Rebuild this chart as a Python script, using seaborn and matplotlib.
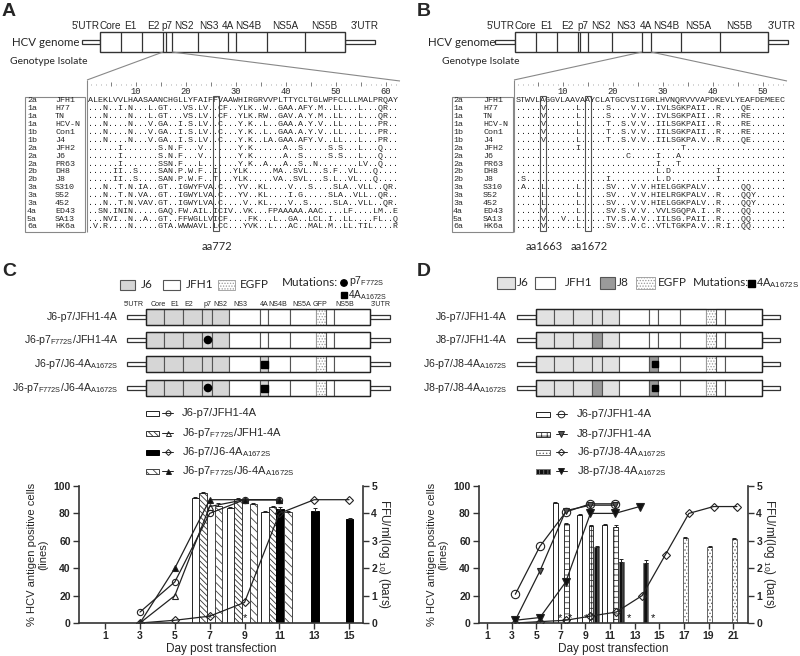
import numpy as np
import pandas as pd
import seaborn as sns
import matplotlib
matplotlib.use("Agg")
import matplotlib.pyplot as plt
from matplotlib.patches import Rectangle, Circle

# ------------------------------------------------------------------ data
genome_parts = ["5'UTR", "Core", "E1", "E2", "p7", "NS2", "NS3", "4A", "NS4B", "NS5A", "NS5B", "3'UTR"]
construct_parts = ["5'UTR", "Core", "E1", "E2", "p7", "NS2", "NS3", "4A", "NS4B", "NS5A", "GFP", "NS5B", "3'UTR"]

genotypes = ["2a", "1a", "1a", "1a", "1b", "1b", "2a", "2a", "2a", "2b", "2b", "3a", "3a", "3a", "4a", "5a", "6a"]
isolates = ["JFH1", "H77", "TN", "HCV-N", "Con1", "J4", "JFH2", "J6", "PR63", "DH8", "J8",
            "S310", "S52", "452", "ED43", "SA13", "HK6a"]

p7_alignment = [
    "ALEKLVVLHAASAANCHGLLYFAIF" + "F" + "VAAWHIRGRVVPLTTYCLTGLWPFCLLLMALPRQAYA",
    "...N..I.N...L.GT...VS.LV." + "." + "CF..YLK..W..GAA.AFY.M..LL...L...QR...",
    "...N....N...L.GT...VS.LV." + "." + "CF..YLK.RW..GAV.A.Y.M..LL...L...QR...",
    "...N....N...V.GA..I.S.LV." + "." + "C...Y.K..L..GAA.A.Y.V..LL...L...PR...",
    "...N....N...V.GA..I.S.LV." + "." + "C...Y.K..L..GAA.A.Y.V..LL...L...PR...",
    "...N....N...V.GA..I.S.LV." + "." + "C...Y.K..LA.GAA.AFY.V..LL...L...PR...",
    "......I.......S.N.F...V.." + "." + "....Y.K......A..S.....S.S...L...Q....",
    "......I.......S.N.F...V.." + "." + "....Y.K......A..S.....S.S...L...Q....",
    "......I.......SSN.F...L.." + "." + "....Y.K..A...A..S..N........LV..Q....",
    ".....II..S....SAN.P.W.F.." + "I" + "...YLK.....MA..SVL...S.F..VL...Q.....",
    ".....II..S....SAN.P.W.F.." + "T" + "...YLK.....VA..SVL...S.L..VL...Q.....",
    "...N..T.N.IA..GT..IGWYFVA" + "." + "C...YV..KL....V...S....SLA..VLL..QR..",
    "...N..T.N.VA..GT..IGWYLVA" + "." + "C...YV..KL....I.G.....SLA..VLL..QR...",
    "...N..T.N.VAV.GT..IGWYLVA" + "." + "C....V..KL....V..S.....SLA..VLL..QR..",
    "..SN.ININ.....GAQ.FW.AIL." + "I" + "CIV..VK...FPAAAAA.AAC....LF....LM..ER",
    "...NVI..N..A..GT..FFWGLLV" + "I" + "CF....FK...L..GA..LCL.I..LL....FL..QR",
    ".V.R....N.....GTA.WWWAVL." + "L" + "CC...YVK..L...AC..MAL.M..LL.TIL....R.",
]
ns4a_alignment = [
    "STWVLAGGVLAAVAAYCLATGCVSIIGRLHVNQRVVVAPDKEVLYEAFDEMEEC",
    ".....V......L.....S....V.V..IVLSGKPAII..R....QE.......",
    ".....V......L.....S....V.V..IVLSGKPAII..R....RE.......",
    ".....V......L.....T..S.V.V..IILSGKPAII..R....RE.......",
    ".....V......L.....T..S.V.V..IILSGKPAII..R....RE.......",
    ".....V......L.....T..S.V.V..IILSGKPA.V..R....QE.......",
    "............I....................T....................",
    "......................C.....I...A.....................",
    "............................I...T.....................",
    "............................L.D.........I.............",
    ".S................I.........L.D.........I.............",
    ".A...L......L.....SV...V.V.HIELGGKPALV.......QQ.......",
    ".....L......L.....SV...V.V.HIELRGKPALV..R....QQY......",
    ".....L......L.....SV...V.V.HIELGGKPALV..R....QQY......",
    ".....V......L.....SV.S.V.V..VVLSGQPA.I..R....QQ.......",
    ".....V...V..L.....TV.S.A.V..IILSG.PAII..R....QQ.......",
    ".....V......L.....SV...V.C..VTLTGKPA.V..R.I..QQ.......",
]
p7_sites = [26]
p7_site_labels = ["aa772"]
ns4a_sites = [6, 15]
ns4a_site_labels = ["aa1663", "aa1672"]

# constructs (panel C / D)
c_names = ["J6-p7/JFH1-4A", r"J6-p7$_{\mathrm{F772S}}$/JFH1-4A",
           r"J6-p7/J6-4A$_{\mathrm{A1672S}}$", r"J6-p7$_{\mathrm{F772S}}$/J6-4A$_{\mathrm{A1672S}}$"]
c_p7_mut = [0, 1, 0, 1]
c_4a_j6 = [0, 0, 1, 1]
c_4a_mut = [0, 0, 1, 1]
d_names = ["J6-p7/JFH1-4A", "J8-p7/JFH1-4A",
           r"J6-p7/J8-4A$_{\mathrm{A1672S}}$", r"J8-p7/J8-4A$_{\mathrm{A1672S}}$"]
d_p7_j8 = [0, 1, 0, 1]
d_4a_j8 = [0, 0, 1, 1]
d_4a_mut = [0, 0, 1, 1]

# panel C kinetics
c_ticks = [1, 3, 5, 7, 9, 11, 13, 15]
c_wt_bar_days = [7, 9, 11]
c_wt_ffu = [4.56, 4.20, 4.05]
c_wt_sd = [0.05, 0.03, 0.04]
c_f772s_bar_days = [7, 9, 11]
c_f772s_ffu = [4.74, 4.53, 4.23]
c_f772s_sd = [0.04, 0.03, 0.03]
c_a1672s_bar_days = [11, 13, 15]
c_a1672s_ffu = [4.16, 4.09, 3.80]
c_a1672s_sd = [0.08, 0.10, 0.04]
c_double_bar_days = [7, 9, 11]
c_double_ffu = [4.27, 4.34, 4.05]
c_double_sd = [0.12, 0.04, 0.03]
c_star_days = [7, 9]

c_line_days = [3, 5, 7, 9, 11]
c_wt_pct = [8, 30, 80, 90, 90]
c_f772s_pct = [0, 20, 85, 90, 90]
c_a1672s_line_days = [3, 5, 7, 9, 11, 13, 15]
c_a1672s_pct = [0, 2, 5, 15, 80, 90, 90]
c_double_pct = [0, 40, 90, 90, 90]

# panel D kinetics
d_ticks = [1, 3, 5, 7, 9, 11, 13, 15, 17, 19, 21]
d_wt_bar_days = [7, 9, 11]
d_wt_ffu = [4.38, 3.94, 3.58]
d_wt_sd = [0.05, 0.05, 0.02]
d_j8p7_bar_days = [7, 9, 11]
d_j8p7_ffu = [3.60, 3.54, 3.50]
d_j8p7_sd = [0.04, 0.05, 0.08]
d_j6j8_bar_days = [17, 19, 21]
d_j6j8_ffu = [3.10, 2.77, 3.07]
d_j6j8_sd = [0.05, 0.04, 0.05]
d_j8j8_bar_days = [9, 11, 13]
d_j8j8_ffu = [2.77, 2.22, 2.19]
d_j8j8_sd = [0.03, 0.10, 0.10]
d_star_days = [6.9, 7.75, 9.0, 12.5, 14.5]

d_line_days = [3.3, 5.3, 7.4, 9.4, 11.4]
d_wt_pct = [21, 56, 81, 87, 87]
d_j8p7_pct = [2, 38, 82, 86, 86]
d_j6j8_line_days = [3.3, 5.3, 7.4, 9.4, 11.5, 13.6, 15.5, 17.4, 19.4, 21.3]
d_j6j8_pct = [0, 1, 2, 5, 8, 20, 50, 80, 85, 85]
d_j8j8_line_days = [3.3, 5.3, 7.4, 9.4, 11.4, 13.4]
d_j8j8_pct = [2, 4, 30, 80, 80, 85]

# ------------------------------------------------------------------ style
sns.set_theme(style="ticks")
SANS = ['Liberation Sans', 'DejaVu Sans']
CAL = ['Lato', 'DejaVu Sans']
MONO = ['Liberation Mono', 'DejaVu Sans Mono']
plt.rcParams['font.family'] = SANS
plt.rcParams['mathtext.fontset'] = 'custom'
plt.rcParams['mathtext.rm'] = 'Liberation Sans'
plt.rcParams['mathtext.it'] = 'Liberation Sans:italic'
plt.rcParams['mathtext.bf'] = 'Liberation Sans:bold'
plt.rcParams['hatch.linewidth'] = 0.6

W, H = 800, 656
fig = plt.figure(figsize=(8, 6.56), dpi=100)
cv = fig.add_axes([0, 0, 1, 1])
cv.set_xlim(0, W)
cv.set_ylim(H, 0)
cv.axis('off')

J6C = '#d6d6d6'
J6D = '#e2e2e2'
J8 = '#9a9a9a'
EDGE = '#333333'


def T(x, y, s, size=7.5, ha='left', va='center', family=None, weight='normal', **kw):
    cv.text(x, y, s, fontsize=size, ha=ha, va=va, family=family or SANS,
            fontweight=weight, **kw)


def line(xs, ys, color='#333', lw=0.8, **kw):
    cv.plot(xs, ys, color=color, lw=lw, solid_capstyle='butt', **kw)


# ------------------------------------------------------------------ panel letters
for lab, x, y in [("A", 2, 11), ("B", 417, 12), ("C", 2, 272), ("D", 417, 272)]:
    T(x, y, lab, 14, weight='bold')


# ------------------------------------------------------------------ genome A/B
def draw_genome(divs, utr_l, utr_r, label_x, hcv_x, y0=32, y1=52):
    yc = (y0 + y1) / 2
    cv.add_patch(Rectangle((utr_l, yc - 2), divs[0] - utr_l, 4, fc='white', ec=EDGE, lw=0.9))
    cv.add_patch(Rectangle((divs[-1], yc - 2), utr_r - divs[-1], 4, fc='white', ec=EDGE, lw=0.9))
    cv.add_patch(Rectangle((divs[0], y0), divs[-1] - divs[0], y1 - y0, fc='white', ec=EDGE, lw=1.0))
    for d in divs[1:-1]:
        line([d, d], [y0, y1], lw=0.9)
    for name, x in zip(genome_parts, label_x):
        T(x, 26, name, 7.2, ha='center')
    T(hcv_x, 43, "HCV genome", 8.3, family=CAL)


draw_genome([100, 121, 142, 163, 166, 172, 198, 228, 236, 267, 305, 345], 82, 375,
            [86, 110, 130, 153, 167, 184, 209, 228, 248, 285, 324, 365], 12)
draw_genome([515, 536, 557, 578, 580, 588, 612, 642, 651, 681, 720, 768], 495, 788,
            [501, 525, 546, 567, 583, 601, 626, 646, 666, 698, 739, 782], 428)


# ------------------------------------------------------------------ alignments
def draw_alignment(seqs, nchar, c1, left_line, box_l, box_r, geno_x, iso_x, zoom_from, zoom_right,
                   sites, site_labels, gt_x):
    ys = [101 + 7.875 * i for i in range(len(seqs))]
    T(gt_x, 62, "Genotype Isolate", 7.5, family=CAL)
    line([zoom_from[0], left_line], [52, 80], color='#888', lw=0.8)
    line([zoom_from[1], zoom_right], [52, 81], color='#888', lw=0.8)
    for k in range(1, nchar + 1):
        x = c1 + (k - 1) * 5
        if k % 5 == 0:
            line([x, x], [81.5, 86], color='#666', lw=0.6)
        else:
            line([x, x], [83.5, 85], color='#888', lw=0.5)
        if k % 10 == 0:
            T(x, 91, str(k), 6.3, ha='center', family=MONO)
    line([left_line, left_line], [80, 232], color='#888', lw=0.8)
    cv.add_patch(Rectangle((box_l, 97), box_r - box_l, 135, fc='none', ec='#888', lw=0.8))
    for y, g, iso, s in zip(ys, genotypes, isolates, seqs):
        T(geno_x, y, g, 6, family=MONO)
        T(iso_x, y, iso, 6, family=MONO)
        T(c1 - 2.5, y, s[:nchar], 6, family=MONO)
    for site, lab in zip(sites, site_labels):
        x = c1 + (site - 1) * 5
        cv.add_patch(Rectangle((x - 3, 96), 6, 135, fc='none', ec='#555', lw=0.8))
        T(x + 1, 246, lab, 8, ha='center', family=CAL)


draw_alignment(p7_alignment, 62, 90.5, 87, 25, 85, 27, 55, (163, 172), 400, p7_sites, p7_site_labels, 10)
draw_alignment(ns4a_alignment, 54, 518, 514, 452, 513, 453, 483, (642, 651), 787, ns4a_sites,
               ns4a_site_labels, 442)


# ------------------------------------------------------------------ constructs
ROWS_Y = [317, 340, 364, 388]


def draw_construct(divs, y, fills, utr_l, utr_r, h=16):
    cv.add_patch(Rectangle((utr_l, y - 2), divs[0] - utr_l, 4, fc='white', ec=EDGE, lw=0.9))
    cv.add_patch(Rectangle((divs[-1], y - 2), utr_r - divs[-1], 4, fc='white', ec=EDGE, lw=0.9))
    for (a, b), f in zip(zip(divs[:-1], divs[1:]), fills):
        if f == 'gfp':
            cv.add_patch(Rectangle((a, y - h / 2), b - a, h, fc='white', ec='#999', hatch='......', lw=0.6))
        else:
            cv.add_patch(Rectangle((a, y - h / 2), b - a, h, fc=f, ec='#555', lw=0.8))
    cv.add_patch(Rectangle((divs[0], y - h / 2), divs[-1] - divs[0], h, fc='none', ec='#222', lw=1.0))


c_divs = [146, 164, 183, 202, 212, 229, 260, 268, 290, 316, 326, 334, 370]
d_divs = [536, 554, 573, 592, 602, 619, 649, 658, 680, 706, 716, 725, 762]

# panel C legend (top)
cv.add_patch(Rectangle((120, 280), 15, 10, fc=J6C, ec='#555', lw=0.8))
T(141, 285, "J6", 8.5, family=CAL)
cv.add_patch(Rectangle((163, 280), 17, 10, fc='white', ec='#555', lw=0.8))
T(186, 285, "JFH1", 8.5, family=CAL)
cv.add_patch(Rectangle((218, 280), 17, 10, fc='white', ec='#999', hatch='......', lw=0.6))
T(240, 285, "EGFP", 8.5, family=CAL)
T(282, 283, "Mutations:", 8.5, family=CAL)
cv.add_patch(Circle((344, 283), 3.2, fc='black', ec='black'))
T(349, 281.5, r"p7$_{\mathrm{F772S}}$", 7.6)
cv.add_patch(Rectangle((341, 292), 6, 6, fc='black', ec='black'))
T(348, 295.5, r"4A$_{\mathrm{A1672S}}$", 7.3)

for name, x in zip(construct_parts, [134, 158, 175, 189, 207, 220, 240, 264, 278, 302, 320, 345, 381]):
    T(x, 305, name, 5.1, ha='center')

for i, y in enumerate(ROWS_Y):
    fills = [J6C] * 5 + ['white', J6C if c_4a_j6[i] else 'white', 'white', 'white', 'gfp', 'white', 'white']
    draw_construct(c_divs, y, fills, 127, 390)
    if c_p7_mut[i]:
        cv.add_patch(Circle((208, y), 3.6, fc='black', ec='black', zorder=5))
    if c_4a_mut[i]:
        cv.add_patch(Rectangle((261, y - 3.5), 7, 7, fc='black', ec='black', zorder=5))
    T(118, y, c_names[i], 7.6, ha='right')

# panel D legend (top)
cv.add_patch(Rectangle((497, 277), 18, 12, fc=J6D, ec='#555', lw=0.8))
T(517, 283, "J6", 8.5, family=CAL)
cv.add_patch(Rectangle((535, 277), 20, 12, fc='white', ec='#555', lw=0.8))
T(565, 283, "JFH1", 8.5, family=CAL)
cv.add_patch(Rectangle((600, 277), 15, 12, fc=J8, ec='#555', lw=0.8))
T(617, 283, "J8", 8.5, family=CAL)
cv.add_patch(Rectangle((636, 277), 19, 12, fc='white', ec='#999', hatch='......', lw=0.6))
T(658, 283, "EGFP", 8.5, family=CAL)
T(693, 283, "Mutations:", 8.5, family=CAL)
cv.add_patch(Rectangle((748, 280), 6.5, 6.5, fc='black', ec='black'))
T(756, 283, r"4A$_{\mathrm{A1672S}}$", 8)

for i, y in enumerate(ROWS_Y):
    fills = [J6D, J6D, J6D, J8 if d_p7_j8[i] else J6D, J6D, 'white',
             J8 if d_4a_j8[i] else 'white', 'white', 'white', 'gfp', 'white', 'white']
    draw_construct(d_divs, y, fills, 517, 780)
    if d_4a_mut[i]:
        cv.add_patch(Rectangle((651.5, y - 3.2), 6.5, 6.5, fc='black', ec='black', zorder=5))
    T(507, y, d_names[i], 7.6, ha='right')

# ------------------------------------------------------------------ bar / marker styles
c_bar_styles = [
    dict(facecolor='white', edgecolor='#222', hatch=None),
    dict(facecolor='white', edgecolor='#333', hatch='\\\\\\\\\\\\'),
    dict(facecolor='black', edgecolor='black', hatch=None),
    dict(facecolor='white', edgecolor='#444', hatch='\\\\\\\\'),
]
c_markers = [
    dict(marker='o', markersize=4.5, markerfacecolor='none'),
    dict(marker='^', markersize=4.5, markerfacecolor='none'),
    dict(marker='D', markersize=3.8, markerfacecolor='none'),
    dict(marker='^', markersize=4.5, markerfacecolor='#111'),
]
d_bar_styles = [
    dict(facecolor='white', edgecolor='#222', hatch=None),
    dict(facecolor='white', edgecolor='#333', hatch='+++'),
    dict(facecolor='white', edgecolor='#666', hatch='.....'),
    dict(facecolor='#111', edgecolor='#777', hatch='||||'),
]
d_markers = [
    dict(marker='o', markersize=6, markerfacecolor='none'),
    dict(marker='v', markersize=5, markerfacecolor='#555'),
    dict(marker='D', markersize=4.2, markerfacecolor='none'),
    dict(marker='v', markersize=5.5, markerfacecolor='#111'),
]


# ------------------------------------------------------------------ legends below constructs
def legend_block(rows_y, patch_x, mk_x, text_x, names, bar_styles, markers, pw):
    for y, name, bs, mk in zip(rows_y, names, bar_styles, markers):
        cv.add_patch(Rectangle((patch_x, y - 2.5), pw, 5, lw=0.7, **bs))
        m = dict(mk)
        m['markersize'] = m['markersize'] * 0.8
        cv.plot([mk_x - 5.5, mk_x, mk_x + 5.5], [y, y, y], color='#222', lw=0.7, markevery=[1],
                markeredgecolor='#222', markeredgewidth=0.7, **m)
        T(text_x, y, name, 8)


legend_block([413, 433, 452, 471], 146, 167.5, 182, c_names, c_bar_styles, c_markers, 13)
legend_block([414, 434, 452, 471], 536, 561, 577, d_names, d_bar_styles, d_markers, 14)


# ------------------------------------------------------------------ kinetics charts
def px_rect(l, r, t, b):
    return [l / W, (H - b) / H, (r - l) / W, (b - t) / H]


def draw_chart(rect, xlim, ticks, bars, lines, stars, width):
    axl = fig.add_axes(rect)
    axb = axl.twinx()
    axl.set_zorder(axb.get_zorder() + 1)
    axl.patch.set_visible(False)
    for days, vals, sd, off, st in bars:
        xs = np.asarray(days, float) + off
        axb.bar(xs, vals, width=width, yerr=[np.zeros(len(sd)), sd], capsize=1.3,
                error_kw=dict(elinewidth=0.7, capthick=0.7, ecolor='#222'), linewidth=0.7, zorder=2, **st)
    for days, vals, mk in lines:
        df = pd.DataFrame({"day": days, "pct": vals})
        sns.lineplot(data=df, x="day", y="pct", ax=axl, color='#222', linewidth=0.9, legend=False,
                     markeredgecolor='#222', markeredgewidth=0.8, errorbar=None, **mk)
    for sx in stars:
        axb.text(sx, 0.17, '*', ha='center', va='center', fontsize=8, color='#111')
    axl.set_xlim(*xlim)
    axl.set_ylim(0, 100)
    axb.set_ylim(0, 5)
    axl.set_xticks(ticks)
    axl.set_yticks([0, 20, 40, 60, 80, 100])
    axb.set_yticks([0, 1, 2, 3, 4, 5])
    for a in (axl, axb):
        for s in a.spines.values():
            s.set_linewidth(1.2)
            s.set_color('#333')
        a.spines['top'].set_visible(False)
    axl.spines['right'].set_visible(False)
    axb.spines['left'].set_visible(False)
    axb.spines['bottom'].set_visible(False)
    axl.tick_params(axis='both', direction='out', length=4, width=1.0, labelsize=7.5, pad=2, color='#333')
    axb.tick_params(axis='y', direction='out', length=4, width=1.0, labelsize=7.5, pad=2, color='#333')
    for lab in axl.get_xticklabels() + axl.get_yticklabels() + axb.get_yticklabels():
        lab.set_fontweight('bold')
    axl.set_xlabel("Day post transfection", fontsize=8.5, labelpad=1)
    axl.set_ylabel("% HCV antigen positive cells\n(lines)", fontsize=8, labelpad=4, linespacing=1.05)
    axb.set_ylabel(r"FFU/ml(log $_{\mathrm{10}}$) (bars)", fontsize=8.5, rotation=270, labelpad=11)
    return axl, axb


c_offsets = [-0.82, -0.38, 0.04, 0.5]
draw_chart(px_rect(79, 363, 486, 623), (-0.5, 15.8), c_ticks,
           [(c_wt_bar_days, c_wt_ffu, c_wt_sd, c_offsets[0], c_bar_styles[0]),
            (c_f772s_bar_days, c_f772s_ffu, c_f772s_sd, c_offsets[1], c_bar_styles[1]),
            (c_a1672s_bar_days, c_a1672s_ffu, c_a1672s_sd, c_offsets[2], c_bar_styles[2]),
            (c_double_bar_days, c_double_ffu, c_double_sd, c_offsets[3], c_bar_styles[3])],
           [(c_line_days, c_wt_pct, c_markers[0]),
            (c_line_days, c_f772s_pct, c_markers[1]),
            (c_a1672s_line_days, c_a1672s_pct, c_markers[2]),
            (c_line_days, c_double_pct, c_markers[3])],
           [d + c_offsets[2] for d in c_star_days], 0.42)

d_offsets = [-0.45, 0.45, 0.1, 0.9]
draw_chart(px_rect(479, 748, 486, 623), (0.35, 22.2), d_ticks,
           [(d_wt_bar_days, d_wt_ffu, d_wt_sd, d_offsets[0], d_bar_styles[0]),
            (d_j8p7_bar_days, d_j8p7_ffu, d_j8p7_sd, d_offsets[1], d_bar_styles[1]),
            (d_j6j8_bar_days, d_j6j8_ffu, d_j6j8_sd, d_offsets[2], d_bar_styles[2]),
            (d_j8j8_bar_days, d_j8j8_ffu, d_j8j8_sd, d_offsets[3], d_bar_styles[3])],
           [(d_line_days, d_wt_pct, d_markers[0]),
            (d_line_days, d_j8p7_pct, d_markers[1]),
            (d_j6j8_line_days, d_j6j8_pct, d_markers[2]),
            (d_j8j8_line_days, d_j8j8_pct, d_markers[3])],
           d_star_days, 0.4)

fig.savefig("out.png", dpi=100, facecolor='white')
